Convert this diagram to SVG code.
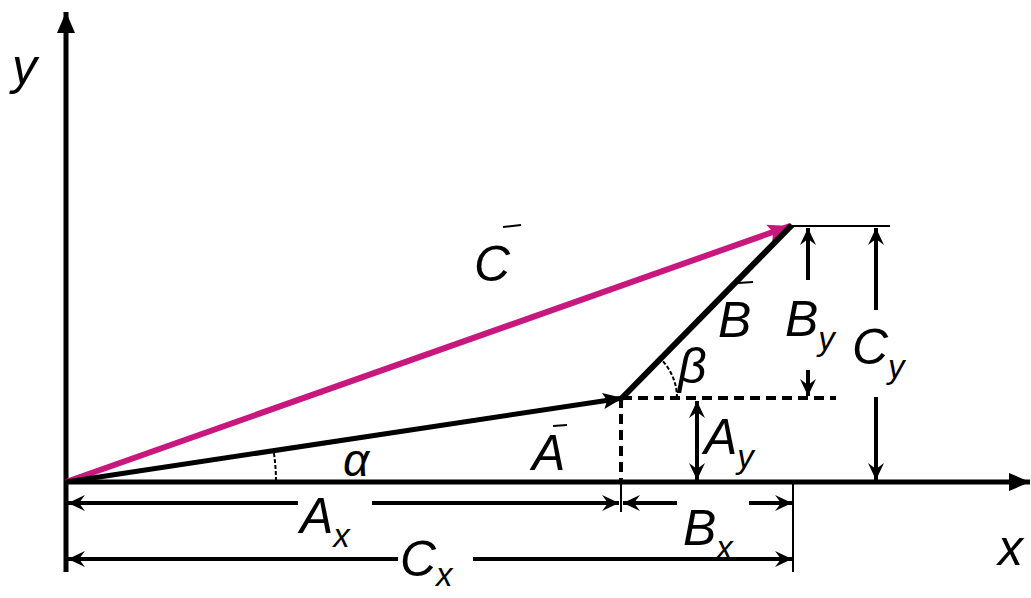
<svg xmlns="http://www.w3.org/2000/svg" width="1031" height="598" viewBox="0 0 1031 598">
<style>
.t{font-family:"Liberation Sans",Arial,sans-serif;font-style:italic;fill:#000}
.big{font-size:50px}
.sub{font-size:33px}
.dim{stroke:#000;stroke-width:4;fill:none}
.thin{stroke:#000;stroke-width:2;fill:none}
.dash{stroke:#000;stroke-width:4;stroke-dasharray:10 6;fill:none}
</style>
<defs>
<marker id="da" markerUnits="userSpaceOnUse" viewBox="0 -9 18 18" refX="17" refY="0" markerWidth="18" markerHeight="18" orient="auto-start-reverse">
<path d="M17,0 L0,-8 L6,0 L0,8 Z" fill="#000"/>
</marker>
<marker id="ax" markerUnits="userSpaceOnUse" viewBox="0 -10 22 20" refX="21" refY="0" markerWidth="22" markerHeight="20" orient="auto">
<path d="M21,0 L0,-9 L0,9 Z" fill="#000"/>
</marker>
<marker id="va" markerUnits="userSpaceOnUse" viewBox="0 -10 22 20" refX="20" refY="0" markerWidth="22" markerHeight="20" orient="auto">
<path d="M20,0 L0,-8 L4,0 L0,8 Z" fill="#000"/>
</marker>
<marker id="vc" markerUnits="userSpaceOnUse" viewBox="0 -10 24 20" refX="22" refY="0" markerWidth="24" markerHeight="20" orient="auto">
<path d="M22,0 L0,-9 L4,0 L0,9 Z" fill="#c8187e"/>
</marker>
</defs>

<g id="axes">
<line x1="66" y1="572" x2="66" y2="12" stroke="#000" stroke-width="5" marker-end="url(#ax)"/>
<line x1="64" y1="482" x2="1030" y2="482" stroke="#000" stroke-width="5" marker-end="url(#ax)"/>
<text class="t big" x="12" y="84">y</text>
<text class="t big" x="998" y="565">x</text>
</g>

<g id="connectors">
<line class="thin" x1="790" y1="226" x2="890" y2="226"/>
<path class="dash" d="M622,398 H836"/>
<path class="dash" d="M621,398 V482"/>
<line class="thin" x1="621" y1="482" x2="621" y2="512"/>
<line class="thin" x1="793" y1="482" x2="793" y2="572"/>
<line class="dim" x1="298" y1="503" x2="68" y2="503" marker-end="url(#da)"/>
<line class="dim" x1="372" y1="503" x2="619" y2="503" marker-end="url(#da)"/>
<line class="dim" x1="677" y1="503" x2="623" y2="503" marker-end="url(#da)"/>
<line class="dim" x1="749" y1="503" x2="792" y2="503" marker-end="url(#da)"/>
<line class="dim" x1="398" y1="559" x2="68" y2="559" marker-end="url(#da)"/>
<line class="dim" x1="473" y1="559" x2="792" y2="559" marker-end="url(#da)"/>
<line class="dim" x1="808" y1="280" x2="808" y2="228" marker-end="url(#da)"/>
<line class="dim" x1="808" y1="370" x2="808" y2="396" marker-end="url(#da)"/>
<line class="dim" x1="876" y1="310" x2="876" y2="228" marker-end="url(#da)"/>
<line class="dim" x1="876" y1="397" x2="876" y2="480" marker-end="url(#da)"/>
<line class="dim" x1="697" y1="401" x2="697" y2="480" marker-start="url(#da)" marker-end="url(#da)"/>
<path class="thin" d="M276,481 A210,210 0 0 0 273.6,450.6" stroke-dasharray="4 2"/>
<path class="thin" d="M677,398 A55,55 0 0 0 660.4,358.6" stroke-dasharray="4 2"/>
<line x1="66" y1="482" x2="790" y2="226" stroke="#c8187e" stroke-width="6" marker-end="url(#vc)"/>
<line x1="66" y1="482" x2="623" y2="398" stroke="#000" stroke-width="5" marker-end="url(#va)"/>
<line x1="622" y1="398" x2="792" y2="225" stroke="#000" stroke-width="6"/>
</g>

<g id="label-C">
<text class="t big" x="474" y="281">C</text>
<line x1="503" y1="227" x2="521" y2="225" stroke="#000" stroke-width="2"/>
</g>
<g id="label-B">
<text class="t big" x="718" y="337">B</text>
<line x1="738" y1="283" x2="753" y2="282" stroke="#000" stroke-width="2"/>
</g>
<g id="label-A">
<text class="t big" x="532" y="470">A</text>
<line x1="553" y1="426" x2="567" y2="425" stroke="#000" stroke-width="2"/>
</g>
<g id="label-alpha"><text class="t" font-size="46" x="343" y="476" font-family="Liberation Serif,serif">α</text></g>
<g id="label-beta"><text class="t" font-size="50" x="678" y="383" font-family="Liberation Serif,serif">β</text></g>
<g id="label-Ax"><text class="t big" x="300" y="533">A<tspan class="sub" dy="14">x</tspan></text></g>
<g id="label-Bx"><text class="t big" x="683" y="545">B<tspan class="sub" dy="14">x</tspan></text></g>
<g id="label-Cx"><text class="t big" x="400" y="576">C<tspan class="sub" dy="10">x</tspan></text></g>
<g id="label-Ay"><text class="t big" x="704" y="454">A<tspan class="sub" dy="14">y</tspan></text></g>
<g id="label-By"><text class="t big" x="785" y="336">B<tspan class="sub" dy="14">y</tspan></text></g>
<g id="label-Cy"><text class="t big" x="852" y="364">C<tspan class="sub" dy="14">y</tspan></text></g>
</svg>
